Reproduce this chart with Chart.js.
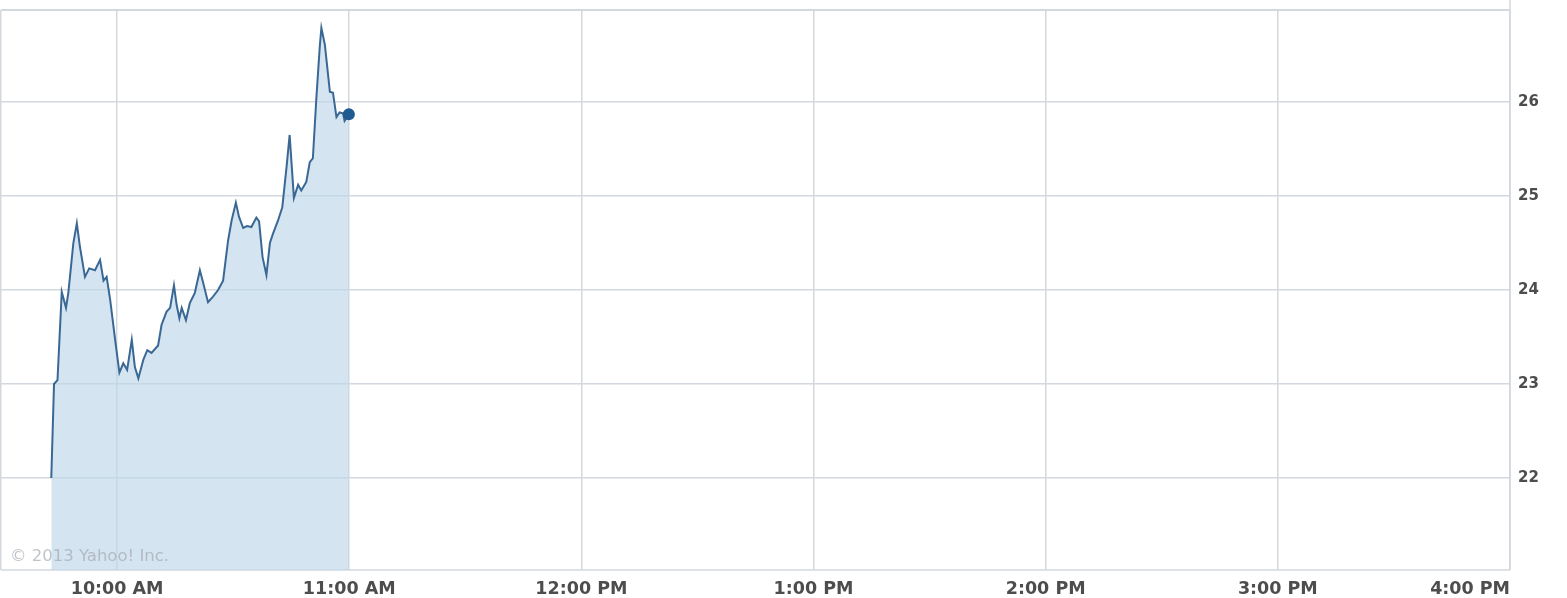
<!DOCTYPE html>
<html>
<head>
<meta charset="utf-8">
<script src="https://cdn.jsdelivr.net/npm/chart.js@4/dist/chart.umd.min.js"></script>
<style>
html,body{margin:0;padding:0;background:#fff;}
#wrap{width:1567px;height:598px;position:relative;}
</style>
</head>
<body>
<div id="wrap"><canvas id="c" width="1567" height="598"></canvas></div>
<script>
// minutes after 9:30 AM
const minutes = [13.0,13.7,14.6,15.7,16.8,17.4,18.7,19.6,20.4,21.7,22.8,24.3,25.6,26.5,27.3,28.2,29.5,30.6,31.6,32.6,33.8,34.6,35.5,36.8,37.8,38.9,40.6,41.5,42.8,43.7,44.7,45.4,46.1,46.7,47.8,48.8,50.1,51.4,52.3,53.5,54.8,56.1,57.4,58.7,59.6,60.7,61.5,62.6,63.6,64.7,66.0,66.7,67.6,68.6,69.5,70.3,71.6,72.7,73.8,74.6,75.7,76.8,77.6,78.9,79.8,80.6,81.5,82.4,82.8,83.7,85.0,85.8,86.7,87.5,88.4,88.8,89.9];
const prices = [22.00,23.00,23.04,23.98,23.81,23.97,24.50,24.71,24.46,24.14,24.23,24.21,24.32,24.10,24.14,23.90,23.47,23.12,23.22,23.15,23.47,23.18,23.06,23.26,23.36,23.33,23.41,23.63,23.77,23.81,24.05,23.84,23.70,23.81,23.68,23.86,23.97,24.21,24.07,23.87,23.93,24.00,24.10,24.53,24.74,24.93,24.78,24.66,24.68,24.67,24.77,24.73,24.35,24.16,24.50,24.60,24.74,24.88,25.31,25.65,24.98,25.12,25.06,25.15,25.36,25.40,26.04,26.60,26.79,26.61,26.11,26.10,25.84,25.89,25.88,25.80,25.87];
const timeTickMinutes = [0,30,90,150,210,270,330,390];
const timeTickLabels = ["","10:00 AM","11:00 AM","12:00 PM","1:00 PM","2:00 PM","3:00 PM","4:00 PM"];
const priceTicks = [22,23,24,25,26];
const copyrightText = "\u00A9 2013 Yahoo! Inc.";

const points = minutes.map((m,i)=>({x:m,y:prices[i]}));
const lastIdx = points.length-1;

const framePlugin = {
  id:'frame',
  beforeDatasetsDraw(chart){
    const {ctx, chartArea:a} = chart;
    ctx.save();
    ctx.strokeStyle = '#d3d8de';
    ctx.lineWidth = 2;
    ctx.beginPath();
    ctx.moveTo(a.left, a.top); ctx.lineTo(a.right, a.top);
    ctx.stroke();
    ctx.lineWidth = 1.5;
    ctx.beginPath();
    ctx.moveTo(a.left, a.bottom); ctx.lineTo(a.right, a.bottom);
    ctx.moveTo(a.right, 0); ctx.lineTo(a.right, a.bottom);
    ctx.stroke();
    ctx.restore();
  },
  afterDatasetsDraw(chart){
    const {ctx, chartArea:a} = chart;
    ctx.save();
    ctx.fillStyle = 'rgba(165,170,175,0.7)';
    ctx.font = '16.5px "DejaVu Sans", Verdana, sans-serif';
    ctx.textBaseline = 'alphabetic';
    ctx.fillText(copyrightText, a.left+9, a.bottom-9);
    ctx.restore();
  }
};

new Chart(document.getElementById('c'), {
  type:'line',
  data:{datasets:[{
    data:points,
    borderColor:'#3a6894',
    borderWidth:2,
    backgroundColor:'rgba(192,215,234,0.68)',
    fill:'start',
    tension:0,
    clip:false,
    pointRadius:(ctx)=>ctx.dataIndex===lastIdx?6:0,
    pointBackgroundColor:'#1f5a92',
    pointBorderColor:'#1f5a92',
    pointBorderWidth:0
  }]},
  options:{
    responsive:false,
    animation:false,
    devicePixelRatio:1,
    layout:{autoPadding:false,padding:{top:10,left:1,right:0,bottom:0}},
    plugins:{legend:{display:false},tooltip:{enabled:false}},
    scales:{
      x:{
        type:'linear',min:0,max:390,
        afterBuildTicks(s){s.ticks = timeTickMinutes.map(v=>({value:v}));},
        afterFit(s){s.height = 28; s.paddingLeft = 0; s.paddingRight = 0;},
        grid:{color:'#d3d8de',lineWidth:1.5,drawTicks:false},
        border:{display:false},
        ticks:{
          padding:9,
          align:'inner',
          color:'#4d4d4d',
          font:{family:'"DejaVu Sans", Verdana, sans-serif',size:17.5,weight:'bold'},
          maxRotation:0,autoSkip:false,
          callback:(v)=>{const i=timeTickMinutes.indexOf(v);return i>=0?timeTickLabels[i]:'';}
        }
      },
      y:{
        position:'right',min:21.02,max:26.98,
        afterBuildTicks(s){s.ticks = priceTicks.map(v=>({value:v}));},
        afterFit(s){s.width = 57; s.paddingTop = 0; s.paddingBottom = 0;},
        grid:{color:'#d3d8de',lineWidth:1.5,drawTicks:false},
        border:{display:false},
        ticks:{
          padding:8,
          color:'#4d4d4d',
          font:{family:'"DejaVu Sans", Verdana, sans-serif',size:15,weight:'bold'},
          callback:(v)=>String(v)
        }
      }
    }
  },
  plugins:[framePlugin]
});
</script>
</body>
</html>
